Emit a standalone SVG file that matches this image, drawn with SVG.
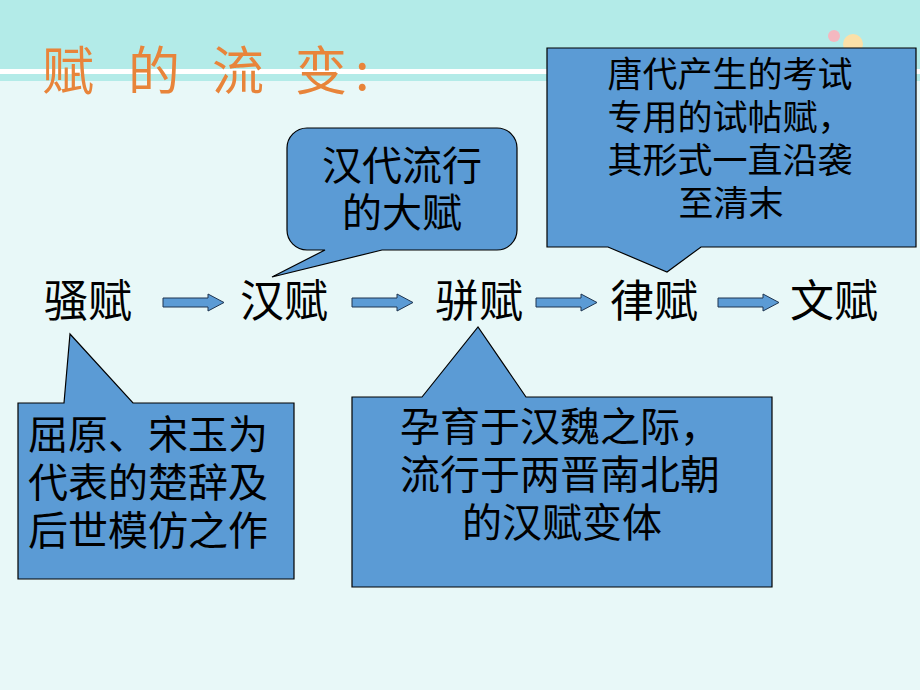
<svg xmlns="http://www.w3.org/2000/svg" width="920" height="690" viewBox="0 0 920 690">
  <style>
    .cjk { font-family: "Noto Sans CJK SC", "Noto Sans CJK TC", sans-serif; fill: #000; }
    .main { font-size: 44px; }
    .note { font-size: 40px; }
    .note2 { font-size: 35px; }
    .callout { fill: #5b9bd5; stroke: #000; stroke-width: 1.2; }
    .arrow { fill: #5b9bd5; stroke: #1f3550; stroke-width: 1; }
    .title { font-family: "Noto Sans CJK SC", sans-serif; font-size: 52px; fill: #e8843a; }
  </style>
  <defs>
    <path id="arr" d="M0,-4.5 H45 V-8.5 L61,0 L45,8.5 V4.5 H0 Z"/>
  </defs>

  <!-- background -->
  <g id="background">
    <rect x="0" y="0" width="920" height="690" fill="#e8f8f8"/>
    <rect x="0" y="0" width="920" height="69" fill="#b3ebe8"/>
    <rect x="0" y="69" width="920" height="5" fill="#ffffff"/>
    <rect x="0" y="74" width="920" height="7" fill="#b3ebe8"/>
    <circle cx="834" cy="36" r="6" fill="#f4b8c0"/>
    <circle cx="853" cy="44" r="10" fill="#fbe0a8"/>
  </g>

  <g id="title">
    <text class="title" x="42 128 212 295 355" y="90">赋的流变:</text>
  </g>

  <!-- connectors -->
  <g id="connectors">
    <use href="#arr" class="arrow" transform="translate(163,302.5)"/>
    <use href="#arr" class="arrow" transform="translate(352,302.5)"/>
    <use href="#arr" class="arrow" transform="translate(536,302.5)"/>
    <use href="#arr" class="arrow" transform="translate(718,302.5)"/>
  </g>

  <!-- main nodes -->
  <g id="node-saofu"><text class="cjk main" x="44" y="317">骚赋</text></g>
  <g id="node-hanfu"><text class="cjk main" x="240" y="317">汉赋</text></g>
  <g id="node-pianfu"><text class="cjk main" x="435" y="317">骈赋</text></g>
  <g id="node-lvfu"><text class="cjk main" x="610" y="317">律赋</text></g>
  <g id="node-wenfu"><text class="cjk main" x="790" y="317">文赋</text></g>

  <!-- callouts -->
  <g id="callout-saofu">
    <path class="callout" d="M18,403 H64 L70,334 L133,403 H294 V579 H18 Z"/>
    <text class="cjk note" x="28" y="449">屈原、宋玉为</text>
    <text class="cjk note" x="28" y="497">代表的楚辞及</text>
    <text class="cjk note" x="28" y="545">后世模仿之作</text>
  </g>

  <g id="callout-hanfu">
    <path class="callout" d="M307,128 H497 A20,20 0 0 1 517,148 V230 A20,20 0 0 1 497,250 H382 L272,277 L325,250 H307 A20,20 0 0 1 287,230 V148 A20,20 0 0 1 307,128 Z"/>
    <text class="cjk note" x="402" y="180" text-anchor="middle">汉代流行</text>
    <text class="cjk note" x="402" y="227" text-anchor="middle">的大赋</text>
  </g>

  <g id="callout-pianfu">
    <path class="callout" d="M352,397 H422 L478,327 L526,397 H772 V587 H352 Z"/>
    <text class="cjk note" x="560" y="441" text-anchor="middle">孕育于汉魏之际，</text>
    <text class="cjk note" x="560" y="489" text-anchor="middle">流行于两晋南北朝</text>
    <text class="cjk note" x="562" y="537" text-anchor="middle">的汉赋变体</text>
  </g>

  <g id="callout-lvfu">
    <path class="callout" d="M547,48 H916 V247 H701 L667,272 L608,247 H547 Z"/>
    <text class="cjk note2" x="730" y="87" text-anchor="middle">唐代产生的考试</text>
    <text class="cjk note2" x="730" y="130" text-anchor="middle">专用的试帖赋，</text>
    <text class="cjk note2" x="730" y="173" text-anchor="middle">其形式一直沿袭</text>
    <text class="cjk note2" x="731" y="216" text-anchor="middle">至清末</text>
  </g>
</svg>
